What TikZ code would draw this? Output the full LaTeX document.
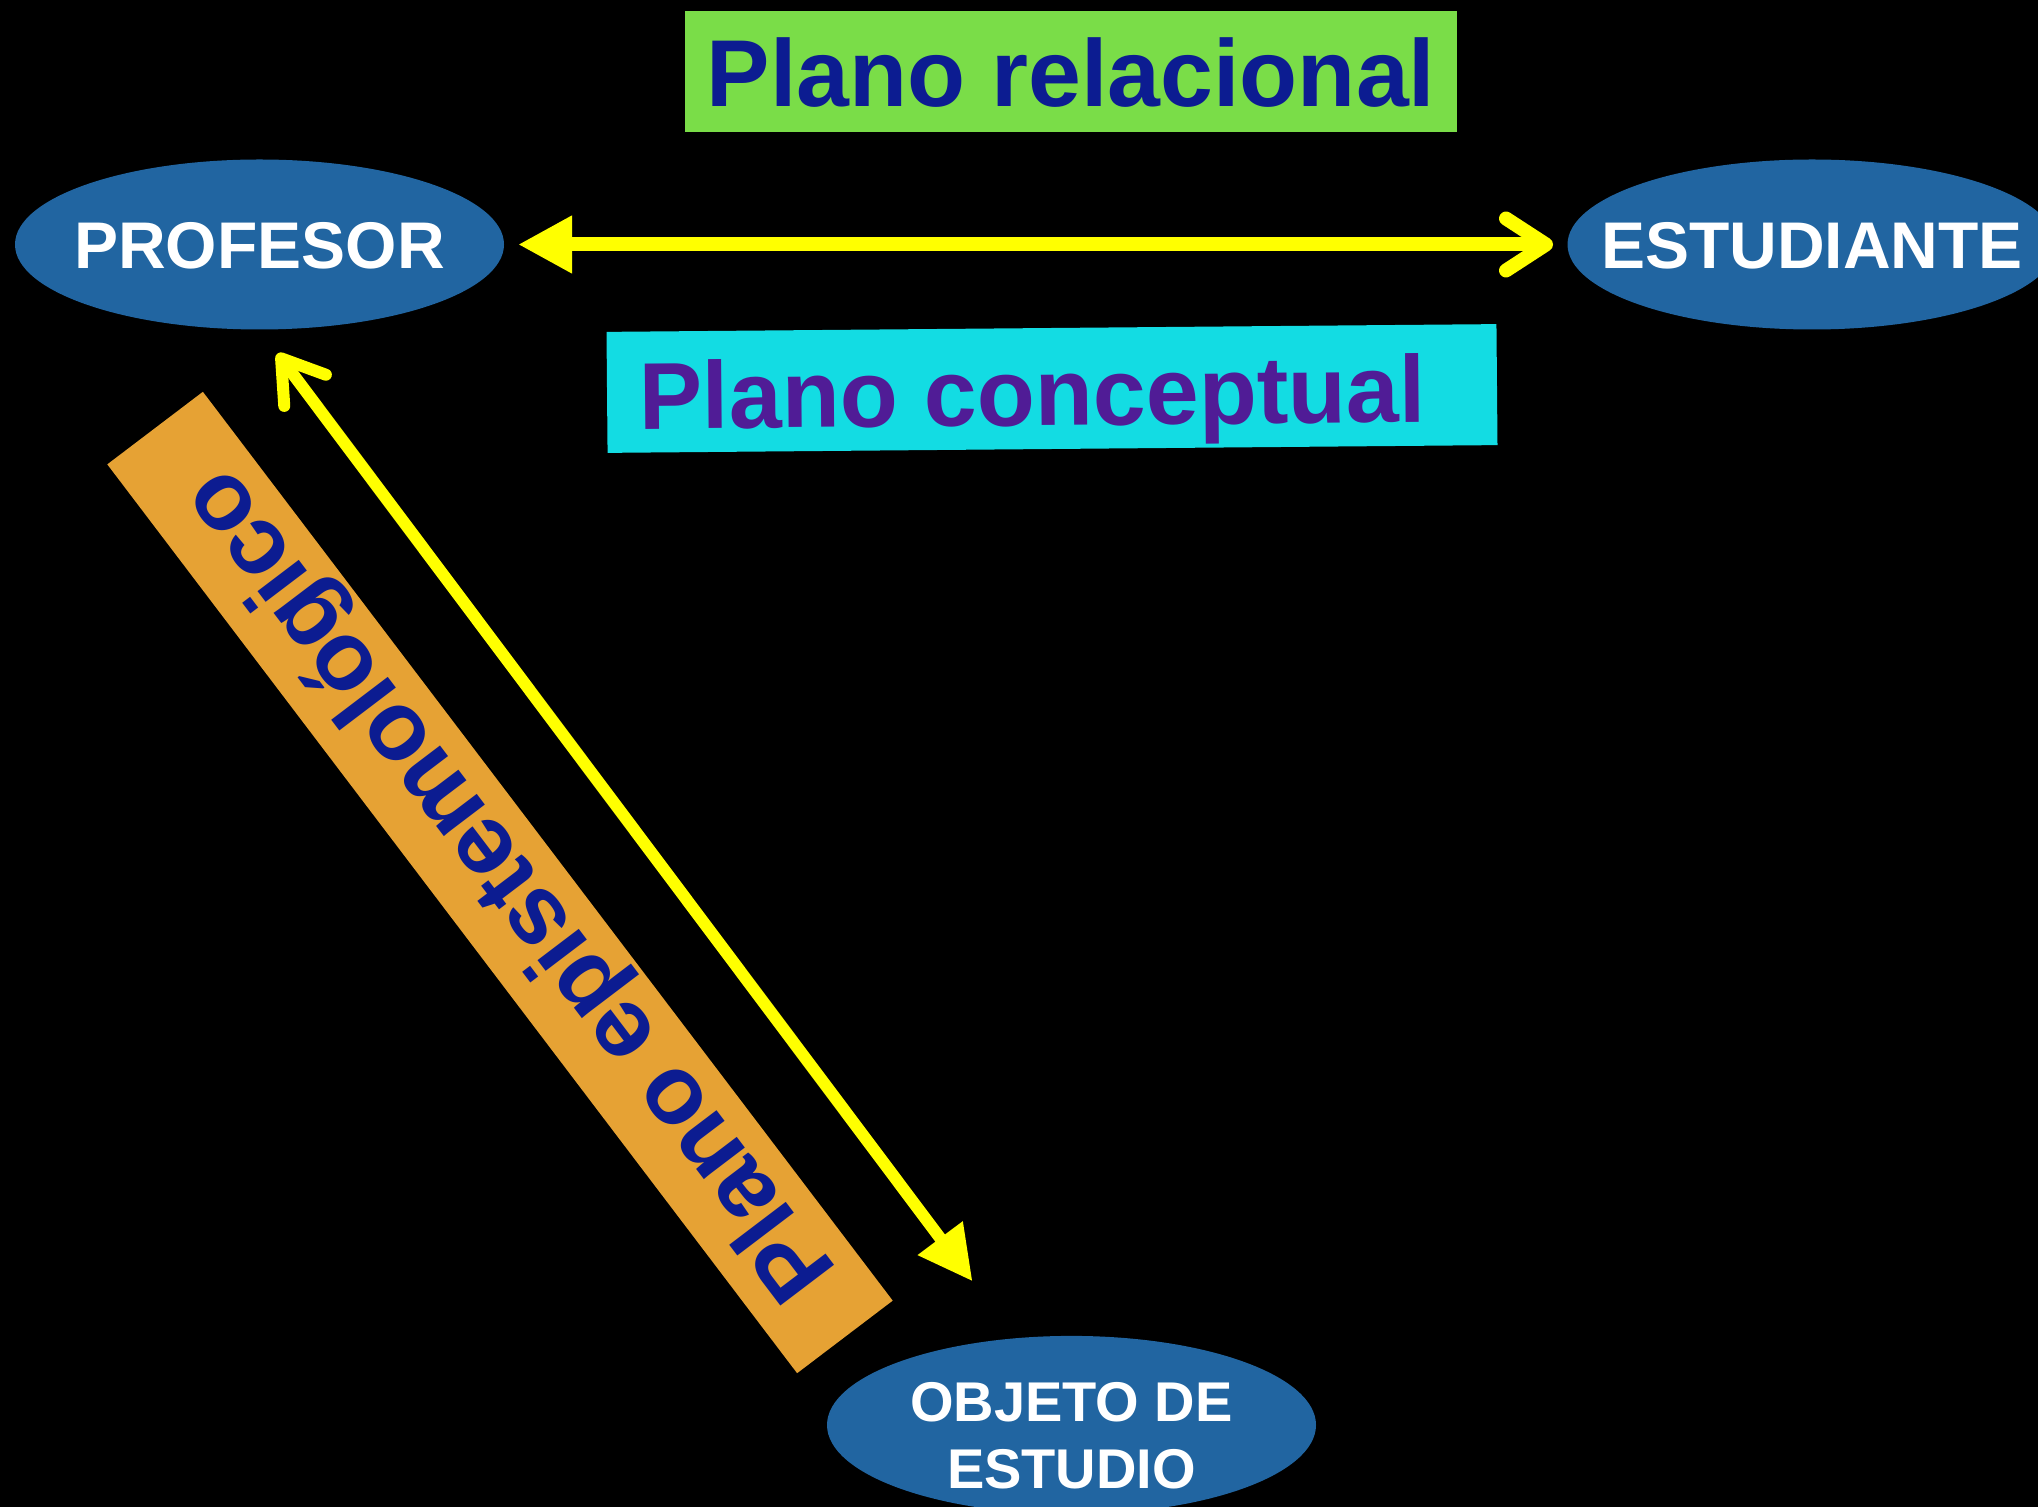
\documentclass[tikz,border=0pt]{standalone}
\usepackage{fontspec}
\setmainfont{Liberation Sans}
\usetikzlibrary{shapes.geometric,arrows.meta,calc}
\newlength\px
\setlength\px{0.5pt}
\definecolor{ellblue}{RGB}{33,101,161}
\definecolor{relgreen}{RGB}{122,221,72}
\definecolor{concyan}{RGB}{19,220,227}
\definecolor{epiorange}{RGB}{230,162,52}
\definecolor{navytext}{RGB}{12,28,145}
\definecolor{purpletext}{RGB}{80,28,150}
\definecolor{arrowyellow}{RGB}{255,255,0}
\begin{document}
\begin{tikzpicture}[x=0.5pt,y=0.5pt,
  actor/.style={ellipse, fill=ellblue, text=white, inner sep=0pt, outer sep=0pt,
    minimum width=489\px, minimum height=170\px},
  actorfont/.style={font=\fontsize{33}{40}\selectfont\bfseries},
  planebox/.style={rectangle, inner sep=0pt, outer sep=0pt,
    font=\fontsize{47.5}{57}\selectfont\bfseries},
  yarrow/.style={draw=arrowyellow, line join=round},
]
\useasboundingbox (0,0) rectangle (2038,-1507);
\clip (0,0) rectangle (2038,-1507);
\fill[black] (0,0) rectangle (2038,-1507);

% orange rotated box
\node[planebox, fill=epiorange, text=navytext,
  font=\fontsize{49}{59}\selectfont\bfseries,
  minimum width=1141\px, minimum height=120\px,
  text height=70\px, text depth=0pt, rotate=127.2]
  (epi) at (500,-882.5) {Plano epistemológico\rule{14\px}{0pt}};

% top boxes
\node[planebox, fill=relgreen, text=navytext,
  minimum width=772\px, minimum height=121\px,
  text height=71\px, text depth=0pt]
  (rel) at (1071,-71.5) {Plano relacional};
\node[planebox, fill=concyan, text=purpletext,
  minimum width=890\px, minimum height=121\px,
  text height=74\px, text depth=0pt, rotate=0.5]
  (conc) at (1052,-388.5) {Plano conceptual\rule{39\px}{0pt}};

% actors
\node[actor, actorfont, text height=49\px, text depth=0pt]
  (prof) at (259.5,-244.5) {\makebox[0pt]{PROFESOR}};
\node[actor, actorfont, text height=49\px, text depth=0pt]
  (est) at (1812,-244.5) {\makebox[0pt]{ESTUDIANTE}};
\node[actor, font=\fontsize{28}{33.5}\selectfont\bfseries,
  text height=126\px, text depth=0pt]
  (obj) at (1071.5,-1425) {\makebox[0pt]{\parbox[b]{450\px}{\centering OBJETO DE\\ESTUDIO}}};

% connectors
\draw[yarrow, line width=7pt,
  {Triangle[length=27pt,width=27pt]}-{Straight Barb[length=20pt,width=26pt,round]},
  shorten <=7pt, shorten >=7.25pt] (prof.east) -- (est.west);
\draw[yarrow, line width=6pt,
  {Straight Barb[length=20pt,width=26pt,round]}-{Triangle[length=27pt,width=26.5pt]},
  shorten <=15pt, shorten >=35.6pt] (prof.south) -- (obj.123);
\end{tikzpicture}
\end{document}
